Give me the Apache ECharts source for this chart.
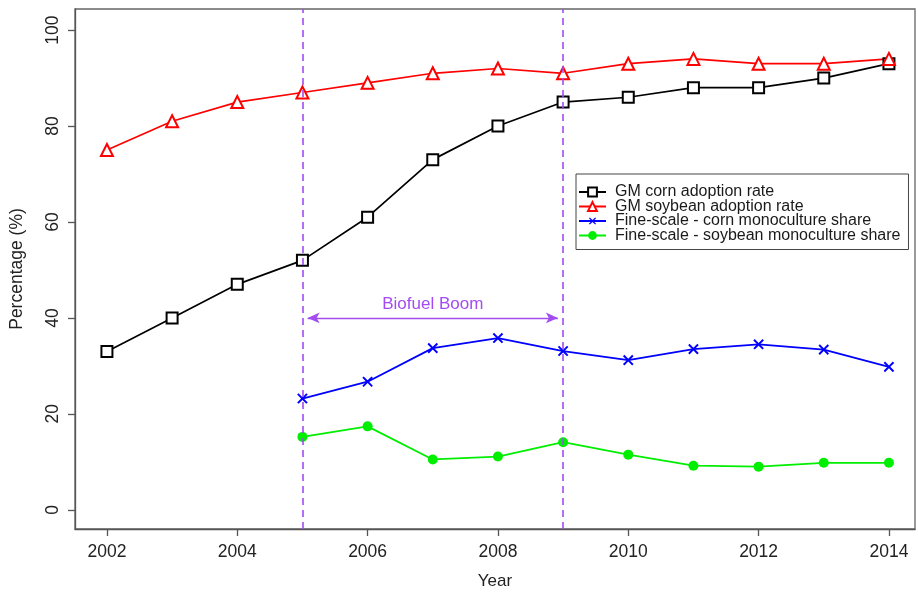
<!DOCTYPE html>
<html><head><meta charset="utf-8">
<script src="https://cdn.jsdelivr.net/npm/echarts@6/dist/echarts.min.js"></script>
<style>html,body{margin:0;padding:0;background:#fff}#c{width:918px;height:595px}</style>
</head><body><div id="c"></div>
<script>
const years = [2002,2003,2004,2005,2006,2007,2008,2009,2010,2011,2012,2013,2014];
const gmCorn = [33,40,47,52,61,73,80,85,86,88,88,90,93];
const gmSoy = [75,81,85,87,89,91,92,91,93,94,93,93,94];
const fineYears = [2005,2006,2007,2008,2009,2010,2011,2012,2013,2014];
const cornMono = [23.2,26.7,33.7,35.8,33.1,31.2,33.5,34.5,33.4,29.8];
const soyMono = [15.2,17.4,10.5,11.1,14.1,11.5,9.2,9.0,9.8,9.8];
const xTicks = [2002,2004,2006,2008,2010,2012,2014];
const yTicks = [0,20,40,60,80,100];
const boomStart = 2005, boomEnd = 2009, arrowY = 40;
const boomLabel = 'Biofuel Boom';

const pair = (xs, ys) => xs.map((x,i)=>[x, ys[i]]);
const font = '"Liberation Sans", Arial, sans-serif';
const purple = '#a24cf2';
const xSym = 'path://M4.25,0H5.75V4.25H10V5.75H5.75V10H4.25V5.75H0V4.25H4.25Z';

const chart = echarts.init(document.getElementById('c'), null, {renderer:'canvas'});
chart.setOption({
  backgroundColor:'#fff',
  animation:false,
  textStyle:{fontFamily:font},
  grid:{left:75, right:3, top:9, bottom:66, show:true, borderColor:'#666', borderWidth:1.3,
        containLabel:false, outerBoundsMode:'none'},
  legend:{
    orient:'vertical', left:576, top:174,
    padding:[10,8,6,2], borderColor:'#444', borderWidth:1,
    itemWidth:27, itemHeight:11, itemGap:-1.5,
    textStyle:{fontSize:16, lineHeight:14, color:'#1a1a1a', fontFamily:font, padding:[0,0,0,4]},
    data:['GM corn adoption rate','GM soybean adoption rate','Fine-scale - corn monoculture share','Fine-scale - soybean monoculture share']
  },
  xAxis:{
    type:'value', min:2001.51, max:2014.40,
    name:'Year', nameLocation:'middle', nameGap:44,
    nameTextStyle:{fontSize:17, color:'#222'},
    axisLine:{show:true, onZero:false, lineStyle:{color:'#555', width:1.3}},
    axisTick:{show:true, length:7, customValues:xTicks, lineStyle:{color:'#555', width:1.3}},
    axisLabel:{customValues:xTicks, fontSize:17.5, color:'#222', margin:14, formatter:v=>String(v)},
    splitLine:{show:false}
  },
  yAxis:{
    type:'value', min:-4.0, max:104.4,
    name:'Percentage (%)', nameLocation:'middle', nameGap:49,
    nameTextStyle:{fontSize:17.5, color:'#222'},
    axisLine:{show:true, onZero:false, lineStyle:{color:'#555', width:1.3}},
    axisTick:{show:true, length:7, customValues:yTicks, lineStyle:{color:'#555', width:1.3}},
    axisLabel:{customValues:yTicks, fontSize:17.5, color:'#222', margin:13, rotate:90, formatter:v=>String(v)},
    splitLine:{show:false}
  },
  series:[
    {name:'GM corn adoption rate', type:'line', data:pair(years,gmCorn),
     symbol:'emptyRect', symbolSize:11, lineStyle:{color:'#000', width:1.7},
     itemStyle:{color:'#000', borderWidth:1.4}, z:3},
    {name:'GM soybean adoption rate', type:'line', data:pair(years,gmSoy),
     symbol:'emptyTriangle', symbolSize:12, lineStyle:{color:'#ff0000', width:1.7},
     itemStyle:{color:'#ff0000', borderWidth:1.4}, z:3},
    {name:'Fine-scale - corn monoculture share', type:'line', data:pair(fineYears,cornMono),
     symbol:xSym, symbolRotate:45, symbolSize:13, lineStyle:{color:'#0000ff', width:1.8},
     itemStyle:{color:'#0000ff'}, z:3},
    {name:'Fine-scale - soybean monoculture share', type:'line', data:pair(fineYears,soyMono),
     symbol:'circle', symbolSize:10, lineStyle:{color:'#00ee00', width:1.8},
     itemStyle:{color:'#00ee00'}, z:3,
     markLine:{
       silent:true, animation:false, symbol:['none','none'],
       data:[
         {xAxis:boomStart, lineStyle:{color:purple, type:[7,5], width:1.6}, label:{show:false}},
         {xAxis:boomEnd, lineStyle:{color:purple, type:[7,5], width:1.6}, label:{show:false}},
         [
           {coord:[boomStart+0.08, arrowY], symbol:'arrow', symbolSize:[8,12], lineStyle:{color:purple, type:'solid', width:1.4},
            label:{show:true, position:'middle', formatter:boomLabel, color:purple, fontSize:17, distance:5}},
           {coord:[boomEnd-0.08, arrowY], symbol:'arrow', symbolSize:[8,12]}
         ]
       ]
     }}
  ]
});
</script></body></html>
